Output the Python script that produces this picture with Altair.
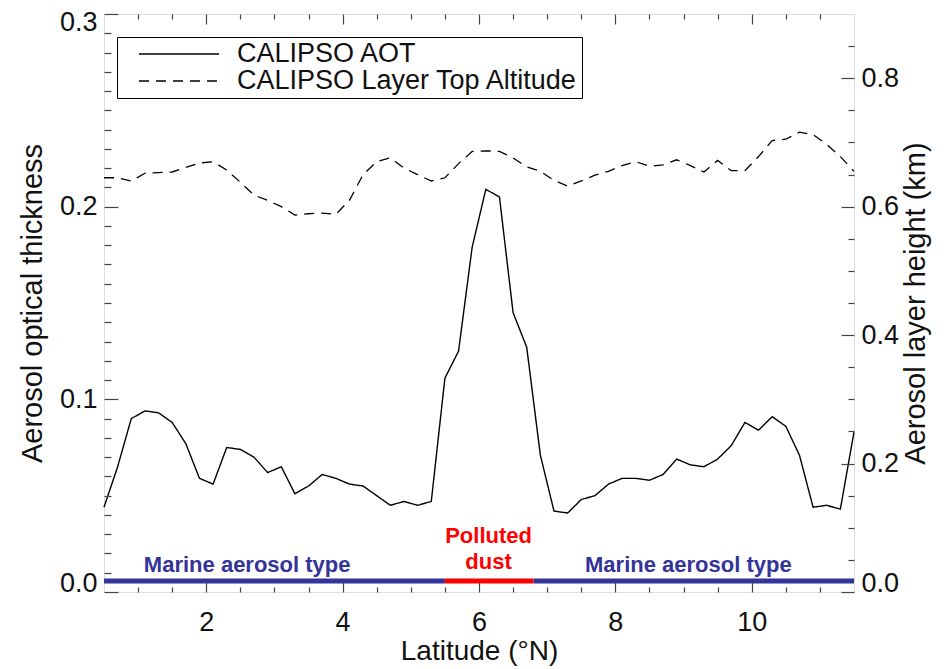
import altair as alt
import pandas as pd

# ---------------- data ----------------
LAT = [0.5, 0.7, 0.9, 1.1, 1.3, 1.5, 1.7, 1.9, 2.1, 2.3, 2.5, 2.7, 2.9, 3.1,
       3.3, 3.5, 3.7, 3.9, 4.1, 4.3, 4.5, 4.7, 4.9, 5.1, 5.3, 5.5, 5.7, 5.9,
       6.1, 6.3, 6.5, 6.7, 6.9, 7.1, 7.3, 7.5, 7.7, 7.9, 8.1, 8.3, 8.5, 8.7,
       8.9, 9.1, 9.3, 9.5, 9.7, 9.9, 10.1, 10.3, 10.5, 10.7, 10.9, 11.1, 11.3, 11.5]

AOT = [0.044, 0.065, 0.090, 0.094, 0.093, 0.088, 0.077, 0.059, 0.056, 0.075,
       0.074, 0.070, 0.062, 0.065, 0.051, 0.055, 0.061, 0.059, 0.056, 0.055,
       0.050, 0.045, 0.047, 0.045, 0.047, 0.111, 0.125, 0.179, 0.209, 0.205,
       0.145, 0.127, 0.071, 0.042, 0.041, 0.048, 0.050, 0.056, 0.059, 0.059,
       0.058, 0.061, 0.069, 0.066, 0.065, 0.069, 0.076, 0.088, 0.084, 0.091,
       0.086, 0.071, 0.044, 0.045, 0.043, 0.083]

LAYER_TOP_KM = [0.645, 0.645, 0.640, 0.652, 0.653, 0.654, 0.661, 0.668, 0.670, 0.657,
                0.638, 0.618, 0.610, 0.600, 0.587, 0.589, 0.590, 0.588, 0.610, 0.650,
                0.670, 0.676, 0.660, 0.650, 0.640, 0.645, 0.667, 0.686, 0.687, 0.686,
                0.676, 0.662, 0.655, 0.641, 0.632, 0.640, 0.649, 0.655, 0.664, 0.670,
                0.663, 0.665, 0.673, 0.664, 0.654, 0.672, 0.656, 0.656, 0.678, 0.703,
                0.705, 0.716, 0.712, 0.697, 0.678, 0.655]

SERIES = ["CALIPSO AOT", "CALIPSO Layer Top Altitude"]

BAND_START = [0.5, 5.5, 6.8]
BAND_END = [5.5, 6.8, 11.5]
BAND_TYPE = ["Marine", "Polluted dust", "Marine"]
BAND_LEVEL = [0.0057, 0.0057, 0.0057]

ANNOT_TEXT = ["Marine aerosol type", "Marine aerosol type", "Polluted", "dust"]
ANNOT_LAT = [2.6, 9.07, 6.14, 6.14]
ANNOT_AOT = [0.0104, 0.0104, 0.0254, 0.0119]
ANNOT_TYPE = ["Marine", "Marine", "Polluted dust", "Polluted dust"]

TYPE_DOMAIN = ["Marine", "Polluted dust"]
TYPE_COLORS = ["#333399", "#ff0000"]

X_MAJOR = [2, 4, 6, 8, 10]
X_MINOR = [1.0, 1.5, 2.5, 3.0, 3.5, 4.5, 5.0, 5.5, 6.5, 7.0, 7.5, 8.5, 9.0, 9.5, 10.5, 11.0]
Y_LEFT_MAJOR = [0.0, 0.1, 0.2, 0.3]
Y_LEFT_MINOR = [round(i / 100, 2) for i in range(1, 30) if i % 10]
Y_RIGHT_MAJOR = [0.0, 0.2, 0.4, 0.6, 0.8]
Y_RIGHT_MINOR = [0.05, 0.1, 0.15, 0.25, 0.3, 0.35, 0.45, 0.5, 0.55, 0.65, 0.7, 0.75, 0.85]

FONT = "Liberation Sans"
TICK = "#444444"
TXT = "#111111"

line_df = pd.DataFrame({"lat": LAT, "aot": AOT, "km": LAYER_TOP_KM})
aot_df = line_df.assign(series=SERIES[0])
km_df = line_df.assign(series=SERIES[1])
band_df = pd.DataFrame({"start": BAND_START, "end": BAND_END, "type": BAND_TYPE, "level": BAND_LEVEL})
annot_df = pd.DataFrame({"text": ANNOT_TEXT, "lat": ANNOT_LAT, "aot": ANNOT_AOT, "type": ANNOT_TYPE})

x_scale = alt.Scale(domain=[0.5, 11.5], nice=False, zero=False)
aot_scale = alt.Scale(domain=[0.0, 0.3], nice=False, zero=False)
km_scale = alt.Scale(domain=[0.0, 0.9], nice=False, zero=False)
dash_scale = alt.Scale(domain=SERIES, range=[[1, 0], [10, 7]])
type_scale = alt.Scale(domain=TYPE_DOMAIN, range=TYPE_COLORS)


def ax(orient, values, size, **kw):
    base = dict(orient=orient, values=values, tickSize=size, offset=-size,
                domain=False, grid=False, ticks=True, tickColor=TICK, tickWidth=1.2,
                tickOpacity=1, zindex=2)
    base.update(kw)
    if "labels" not in kw:
        base["labels"] = False
    if "title" not in kw:
        base["title"] = None
    return alt.Axis(**base)


legend = alt.Legend(
    orient="none", legendX=13, legendY=23, title=None, direction="vertical",
    strokeColor="black", fillColor="white", padding=4, cornerRadius=0,
    symbolType="stroke", symbolSize=6400, symbolStrokeWidth=1.3,
    symbolStrokeColor="black", symbolOffset=17, labelOffset=17,
    labelFont=FONT, labelFontSize=27, labelColor=TXT, labelLimit=600,
    clipHeight=26, rowPadding=0, zindex=3,
)

aot_line = alt.Chart(aot_df).mark_line(color="black", strokeWidth=1.4).encode(
    x=alt.X("lat:Q", scale=x_scale,
            axis=ax("bottom", X_MAJOR, 10, labels=True, title="Latitude (°N)",
                    labelFont=FONT, labelFontSize=27, labelColor=TXT, labelPadding=17,
                    titleFont=FONT, titleFontSize=28, titleFontWeight="normal",
                    titleColor=TXT, titlePadding=2)),
    y=alt.Y("aot:Q", scale=aot_scale,
            axis=ax("left", Y_LEFT_MAJOR, 14, labels=True, format=".1f",
                    title="Aerosol optical thickness", labelFlush=True, labelFlushOffset=5,
                    labelFont=FONT, labelFontSize=27, labelColor=TXT, labelPadding=7,
                    titleFont=FONT, titleFontSize=29, titleFontWeight="normal",
                    titleColor=TXT, titlePadding=12)),
    strokeDash=alt.StrokeDash("series:N", scale=dash_scale, legend=legend),
)

km_line = alt.Chart(km_df).mark_line(color="black", strokeWidth=1.3).encode(
    x=alt.X("lat:Q", scale=x_scale, axis=ax("top", X_MAJOR, 10)),
    y=alt.Y("km:Q", scale=km_scale,
            axis=ax("right", Y_RIGHT_MAJOR, 13, labels=True, format=".1f",
                    title="Aerosol layer height (km)", labelFlush=True, labelFlushOffset=5,
                    titleAngle=270, titleBaseline="top",
                    labelFont=FONT, labelFontSize=27, labelColor=TXT, labelPadding=7,
                    titleFont=FONT, titleFontSize=29, titleFontWeight="normal",
                    titleColor=TXT, titlePadding=3)),
    strokeDash=alt.StrokeDash("series:N", scale=dash_scale, legend=legend),
)

bands = alt.Chart(band_df).mark_rule(strokeWidth=5, strokeCap="butt").encode(
    x=alt.X("start:Q", scale=x_scale, axis=ax("bottom", X_MINOR, 5)),
    x2="end:Q",
    y=alt.Y("level:Q", scale=aot_scale, axis=ax("left", Y_LEFT_MINOR, 7)),
    color=alt.Color("type:N", scale=type_scale, legend=None),
)

annots = alt.Chart(annot_df).mark_text(
    font=FONT, fontSize=22, fontWeight="bold", align="center", baseline="alphabetic"
).encode(
    x=alt.X("lat:Q", scale=x_scale, axis=None),
    y=alt.Y("aot:Q", scale=aot_scale, axis=None),
    text="text:N",
    color=alt.Color("type:N", scale=type_scale, legend=None),
)

minor_carrier = alt.Chart(km_df).mark_line(opacity=0).encode(
    x=alt.X("lat:Q", scale=x_scale, axis=ax("top", X_MINOR, 5)),
    y=alt.Y("km:Q", scale=km_scale, axis=ax("right", Y_RIGHT_MINOR, 6)),
)

chart = (
    alt.layer(aot_line, km_line, bands, annots, minor_carrier)
    .resolve_scale(y="independent")
    .resolve_axis(x="independent", y="independent")
    .properties(
        width=750, height=578,
        autosize=alt.AutoSizeParams(type="none"),
        padding={"left": 96, "top": 6, "right": 80, "bottom": 74},
    )
    .configure_view(stroke="#888888", strokeWidth=1.2)
    .configure(font=FONT)
)

chart.save("out.html", embed_options={"renderer": "svg", "actions": False})
